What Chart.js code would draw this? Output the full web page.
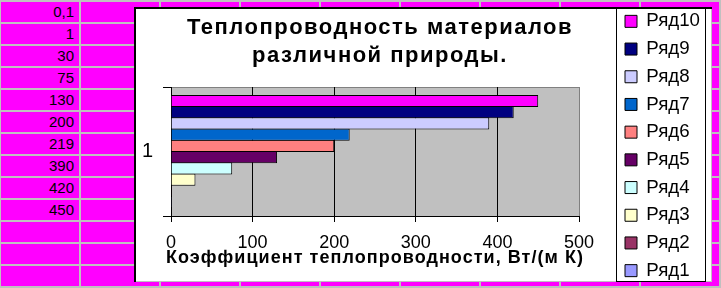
<!DOCTYPE html>
<html>
<head>
<meta charset="utf-8">
<script src="https://cdn.jsdelivr.net/npm/chart.js@4"></script>
<style>
  html, body { margin: 0; padding: 0; }
  body {
    width: 721px; height: 288px; overflow: hidden; position: relative;
    background-color: #ff00ff;
    background-image: linear-gradient(to right, #c0c0c0 2px, transparent 2px),
                      linear-gradient(to bottom, #c0c0c0 2px, transparent 2px);
    background-size: 80px 22px, 80px 22px;
    background-position: -1px 0, 0 0;
    font-family: 'Liberation Sans', Arial, sans-serif;
  }
  .cell { position: absolute; left: 0; width: 74px; height: 20px; line-height: 20px;
          text-align: right; font-size: 15px; color: #000; }
  #frame { position: absolute; left: 134px; top: 7px; width: 578px; height: 275px; background: #fff;
           box-shadow: inset 2px 2px 0 #000, inset -1px -1px 0 #c0c0c0; }
  #frame canvas { position: absolute; left: 0; top: 0; }
</style>
</head>
<body>
<div id="cells"></div>
<div id="frame"><canvas id="heat" width="578" height="275"></canvas></div>
<script>
// data
const categories = ['1'];
const seriesNames = ['Ряд10', 'Ряд9', 'Ряд8', 'Ряд7', 'Ряд6', 'Ряд5', 'Ряд4', 'Ряд3', 'Ряд2', 'Ряд1'];
const seriesValues = [450, 420, 390, 219, 200, 130, 75, 30, 1, 0.1];
const seriesColors = ['#ff00ff', '#000080', '#ccccff', '#0066cc', '#ff8080', '#660066', '#ccffff', '#ffffcc', '#993366', '#9999ff'];
const xTicks = [0, 100, 200, 300, 400, 500];
const chartTitle = ['Теплопроводность материалов', 'различной природы.'];
const axisTitle = 'Коэффициент теплопроводности, Вт/(м К)';

// spreadsheet cells (Ряд1 .. Ряд10)
const cells = document.getElementById('cells');
seriesValues.slice().reverse().forEach((v, i) => {
  const d = document.createElement('div');
  d.className = 'cell';
  d.style.top = (22 * i + 2) + 'px';
  d.textContent = String(v).replace('.', ',');
  cells.appendChild(d);
});

Chart.defaults.font.family = "'Liberation Sans', Arial, sans-serif";
Chart.defaults.color = '#000';

// excel-ish extras: grey plot area, legend frame, wider bold text
const excelLook = {
  id: 'excelLook',
  afterLayout(chart) {
    const ctx = chart.ctx;
    const tb = chart.titleBlock;
    tb.left += 5;
    tb.right += 5;
    const drawTitle = tb.draw;
    tb.draw = function(area) {
      ctx.letterSpacing = '1.5px';
      drawTitle.call(this, area);
      ctx.letterSpacing = '0px';
    };
    chart.legend.top -= 4;
    chart.legend.bottom += 20;

    const xs = chart.scales.x;
    const drawAxisTitle = xs.drawTitle;
    xs.drawTitle = function() {
      this.left -= 15; this.right += 15;
      ctx.letterSpacing = '1.05px';
      drawAxisTitle.call(this);
      ctx.letterSpacing = '0px';
      this.left += 15; this.right -= 15;
    };
  },
  beforeDraw(chart) {
    const { ctx, chartArea: a } = chart;
    ctx.save();
    ctx.fillStyle = '#c0c0c0';
    ctx.fillRect(a.left, a.top, a.right - a.left, a.bottom - a.top);
    ctx.strokeStyle = '#808080';
    ctx.lineWidth = 1;
    ctx.beginPath();
    ctx.moveTo(a.left, a.top + 0.5);
    ctx.lineTo(a.right, a.top + 0.5);
    ctx.stroke();
    ctx.restore();
  },
  afterDraw(chart) {
    const { ctx } = chart;
    const lg = chart.legend;
    ctx.save();
    ctx.strokeStyle = '#000';
    ctx.lineWidth = 1;
    ctx.strokeRect(lg.left + 0.5, 0.5, lg.width - 1, chart.height - 1);
    ctx.restore();
  }
};

const ctx = document.getElementById('heat');

new Chart(ctx, {
  type: 'bar',
  data: {
    labels: categories,
    datasets: seriesNames.map((name, i) => ({
      label: name,
      data: [seriesValues[i]],
      backgroundColor: seriesColors[i],
      borderColor: '#000',
      borderWidth: 1,
      barPercentage: 1.09,
      categoryPercentage: 0.87
    }))
  },
  options: {
    indexAxis: 'y',
    responsive: false,
    animation: false,
    layout: { padding: { right: 6 } },
    scales: {
      x: {
        min: 0,
        max: 500,
        afterBuildTicks: s => { s.ticks = xTicks.map(v => ({ value: v })); },
        ticks: { font: { size: 18 }, padding: 10, maxRotation: 0, autoSkip: false },
        grid: {
          color: c => (c.tick && c.tick.value === 500 ? '#808080' : '#000'),
          tickColor: '#000',
          tickLength: 6
        },
        border: { color: '#000' },
        title: { display: true, text: axisTitle, font: { size: 18, weight: 'bold' }, padding: { top: 0, bottom: 13 } },
        afterFit: s => { s.height = 66; }
      },
      y: {
        ticks: { font: { size: 20 }, padding: 10 },
        grid: { drawOnChartArea: false, tickLength: 8, color: '#000' },
        border: { color: '#000' },
        afterFit: s => { s.width = 37; }
      },
      yR: {
        type: 'linear',
        position: 'right',
        grid: { display: false },
        ticks: { display: false },
        border: { display: false },
        afterFit: s => { s.width = 37; }
      }
    },
    plugins: {
      title: {
        display: true,
        fullSize: false,
        text: chartTitle,
        font: { size: 22, weight: 'bold', lineHeight: 1.273 },
        padding: { top: 7.4, bottom: 16.6 }
      },
      legend: {
        position: 'right',
        align: 'start',
        maxWidth: 90,
        labels: { boxWidth: 12, boxHeight: 12, padding: 9, font: { size: 18.7 } }
      },
      tooltip: { enabled: false }
    }
  },
  plugins: [excelLook]
});
</script>
</body>
</html>
